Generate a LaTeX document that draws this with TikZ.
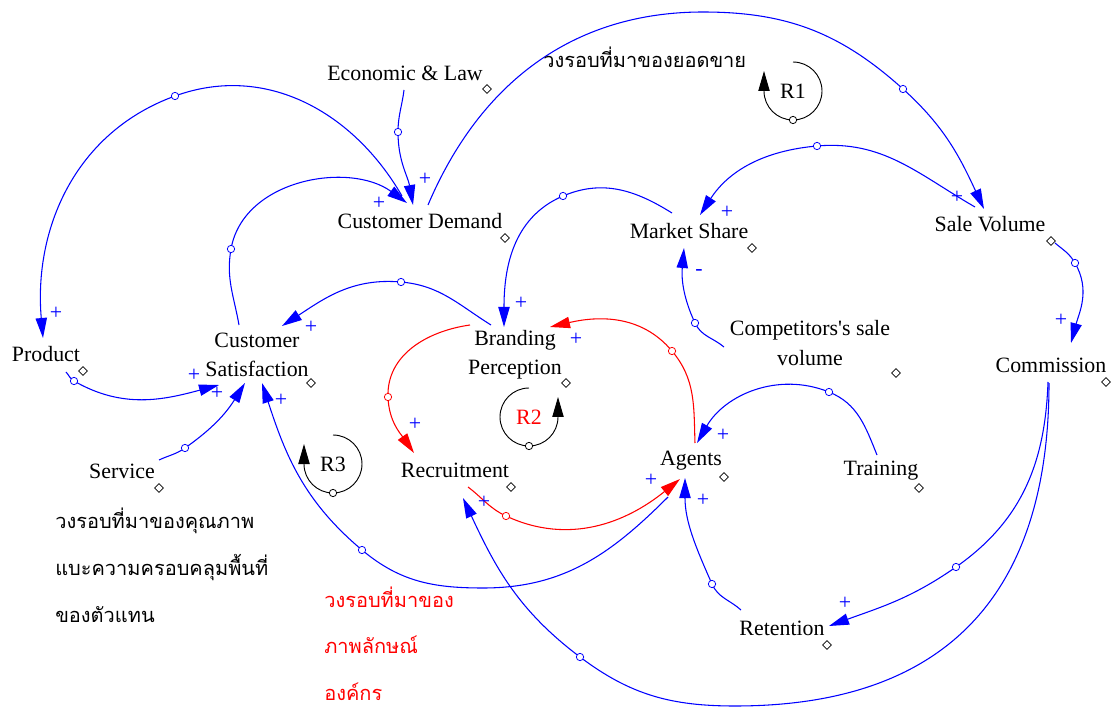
\documentclass[tikz,border=0pt]{standalone}
\usepackage{fontspec}
\setmainfont{Liberation Serif}
\newfontfamily\thaifont[Script=Thai]{Loma}
\usetikzlibrary{calc, arrows.meta, shapes.geometric}

\begin{document}
\begin{tikzpicture}[x=0.75pt, y=0.75pt, yscale=-1,
  var/.style={font=\fontsize{16.4}{22}\selectfont, align=center, inner sep=0pt},
  link/.style={blue, line width=0.8pt, -{Triangle[length=15pt, width=8.5pt]}},
  redlink/.style={link, red},
  handle/.style={circle, draw, fill=white, inner sep=0pt, minimum size=5.5pt, line width=0.6pt},
  diam/.style={diamond, draw, inner sep=0pt, minimum size=6.8pt, line width=0.6pt},
  sign/.style={blue, font=\fontsize{16.4}{16}\selectfont, inner sep=0pt},
  loopring/.style={black, line width=0.7pt, -{Triangle[length=15pt, width=8.5pt]}},
  thai/.style={font=\thaifont\fontsize{15}{15}\selectfont, anchor=base west, inner sep=0pt}]
  \useasboundingbox (0,0) rectangle (1111,709);
  % variables (pixel grid of the sketch, y downwards)
  \node[var] (econ) at (405,73) {Economic \& Law};
  \node[var] (demand) at (420,221) {Customer Demand};
  \node[var] (product) at (46,354) {Product};
  \node[var] (satisf) at (257,355) {Customer\\Satisfaction};
  \node[var] (service) at (122,471) {Service};
  \node[var] (brand) at (515,355) {Branding\\Perception};
  \node[var] (recruit) at (455,470) {Recruitment};
  \node[var] (agents) at (691,461) {Agents};
  \node[var] (share) at (689,231) {Market Share};
  \node[var] (sales) at (990,224) {Sale Volume};
  \node[var] (rival) at (810,343) {Competitors\textquotesingle s sale\\volume};
  \node[var] (commission) at (1051,365) {Commission};
  \node[var] (training) at (881,471) {Training};
  \node[var] (retention) at (782,628) {Retention};
  % small diamonds beside the names
  \node[diam] (econ-d) at ($(econ)+(82,16)$) {};
  \node[diam] (demand-d) at ($(demand)+(85,17)$) {};
  \node[diam] (product-d) at ($(product)+(37,17)$) {};
  \node[diam] (satisf-d) at ($(satisf)+(54,28)$) {};
  \node[diam] (service-d) at ($(service)+(37,17)$) {};
  \node[diam] (brand-d) at ($(brand)+(51,28)$) {};
  \node[diam] (recruit-d) at ($(recruit)+(56,17)$) {};
  \node[diam] (agents-d) at ($(agents)+(33,16)$) {};
  \node[diam] (share-d) at ($(share)+(63,17)$) {};
  \node[diam] (sales-d) at ($(sales)+(61,17)$) {};
  \node[diam] (rival-d) at ($(rival)+(86,30)$) {};
  \node[diam] (commission-d) at ($(commission)+(55,17)$) {};
  \node[diam] (training-d) at ($(training)+(38,17)$) {};
  \node[diam] (retention-d) at ($(retention)+(45,17)$) {};
  % causal links, each through its handle
  \draw[link] ($(econ)+(-1,17)$) to[out=97,in=-90] (398,132) node[handle]{} to[out=90,in=-100] ($(demand)+(-7,-16)$);
  \draw[link] ($(demand)+(-18,-25)$) to[out=-120,in=-20] (175,96) node[handle]{} to[out=160,in=-95] ($(product)+(-3,-16)$);
  \draw[link] ($(satisf)+(-18,-30)$) to[out=-100,in=100] (231,249) node[handle]{} to[out=-80,in=-144] ($(demand)+(-13,-18)$);
  \draw[link] ($(demand)+(8,-16)$) to[out=-67,in=180] (703,12) to[out=0,in=-138] (903,89) node[handle]{} to[out=42,in=-115] ($(sales)+(-6,-15)$);
  \draw[link] ($(sales)+(-15,-17)$) to[out=-150,in=-5] (817,146) node[handle]{} to[out=175,in=-57] ($(share)+(11,-16)$);
  \draw[link] ($(share)+(-17,-18)$) to[out=-148,in=-23] (563,196) node[handle]{} to[out=157,in=-90] ($(brand)+(-11,-28)$);
  \draw[link] ($(rival)+(-86,4)$) to[out=-140,in=65] (695,323) node[handle]{} to[out=-115,in=95] ($(share)+(-5,17)$);
  \draw[link] ($(sales)+(65,19)$) to[out=40,in=-120] (1075,263) node[handle]{} to[out=60,in=-75] ($(commission)+(20,-22)$);
  \draw[link] ($(commission)+(-3,17)$) to[out=92,in=-35] (956,567) node[handle]{} to[out=145,in=-20] ($(retention)+(47,-2)$);
  \draw[link] ($(commission)+(-2,18)$) to[out=90,in=0,looseness=1.2] (735,706) to[out=180,in=37] (580,657) node[handle]{} to[out=-143,in=65] ($(recruit)+(8,28)$);
  \draw[link] ($(retention)+(-41,-18)$) to[out=-138,in=66] (712,584) node[handle]{} to[out=-114,in=90] ($(agents)+(-6,17)$);
  \draw[link] ($(training)+(-4,-16)$) to[out=-112,in=22] (829,392) node[handle]{} to[out=-158,in=-60] ($(agents)+(6,-18)$);
  \draw[redlink] ($(agents)+(4,-18)$) to[out=-92,in=50] (672,351) node[handle]{} to[out=-130,in=-13] ($(brand)+(35,-28)$);
  \draw[redlink] ($(brand)+(-45,-30)$) to[out=172,in=-92] (388,397) node[handle]{} to[out=88,in=-125] ($(recruit)+(-41,-17)$);
  \draw[redlink] ($(recruit)+(13,17)$) to[out=37,in=-155] (506,516) node[handle]{} to[out=25,in=141] ($(agents)+(-11,18)$);
  \draw[link] ($(brand)+(-24,-30)$) to[out=-148,in=5] (401,282) node[handle]{} to[out=-175,in=-33] ($(satisf)+(25,-29)$);
  \draw[link] ($(product)+(20,18)$) to[out=48,in=-150] (74,381) node[handle]{} to[out=30,in=165] ($(satisf)+(-38,30)$);
  \draw[link] ($(service)+(37,-11)$) to[out=-25,in=145] (185,448) node[handle]{} to[out=-35,in=122] ($(satisf)+(-12,28)$);
  \draw[link] ($(agents)+(-23,36)$) to[out=135,in=0] (483,588) to[out=180,in=40] (362,550) node[handle]{} to[out=-140,in=72] ($(satisf)+(5,28)$);
  % polarity signs
  \node[sign] (s1) at (425,179) {+};
  \node[sign] (s2) at (56,313) {+};
  \node[sign] (s3) at (379,203) {+};
  \node[sign] (s4) at (957,197) {+};
  \node[sign] (s5) at (727,212) {+};
  \node[sign] (s6) at (521,303) {+};
  \node[sign] (s7) at (699,273) {-};
  \node[sign] (s8) at (1061,320) {+};
  \node[sign] (s9) at (845,603) {+};
  \node[sign] (s10) at (484,502) {+};
  \node[sign] (s11) at (703,500) {+};
  \node[sign] (s12) at (723,435) {+};
  \node[sign] (s13) at (576,339) {+};
  \node[sign] (s14) at (415,424) {+};
  \node[sign] (s15) at (651,480) {+};
  \node[sign] (s16) at (311,327) {+};
  \node[sign] (s17) at (194,375) {+};
  \node[sign] (s18) at (217,393) {+};
  \node[sign] (s19) at (281,400) {+};
  % loop markers
  \node[var] (r1) at (793,91) {R1};
  \draw[loopring] ($(r1)+(0,-29)$) arc[start angle=-90, end angle=180, radius=29] -- ++(0,-20);
  \node[handle, draw=black] (r1-h) at ($(r1)+(0,29)$) {};
  \node[var, red] (r2) at (529,417) {R2};
  \draw[loopring] ($(r2)+(0,-29)$) arc[start angle=-90, end angle=-360, radius=29] -- ++(0,-20);
  \node[handle, draw=black] (r2-h) at ($(r2)+(0,29)$) {};
  \node[var] (r3) at (333,464) {R3};
  \draw[loopring] ($(r3)+(0,-29)$) arc[start angle=-90, end angle=180, radius=29] -- ++(0,-20);
  \node[handle, draw=black] (r3-h) at ($(r3)+(0,29)$) {};
  % loop notes
  \node[thai] (note-sales) at (543,68) {วงรอบที่มาของยอดขาย};
  \node[thai] (note-q1) at (55,528) {วงรอบที่มาของคุณภาพ};
  \node[thai] (note-q2) at (55,575) {แบะความครอบคลุมพื้นที่};
  \node[thai] (note-q3) at (55,622) {ของตัวแทน};
  \node[thai, red] (note-b1) at (324,607) {วงรอบที่มาของ};
  \node[thai, red] (note-b2) at (324,653) {ภาพลักษณ์};
  \node[thai, red] (note-b3) at (324,700) {องค์กร};
\end{tikzpicture}
\end{document}
